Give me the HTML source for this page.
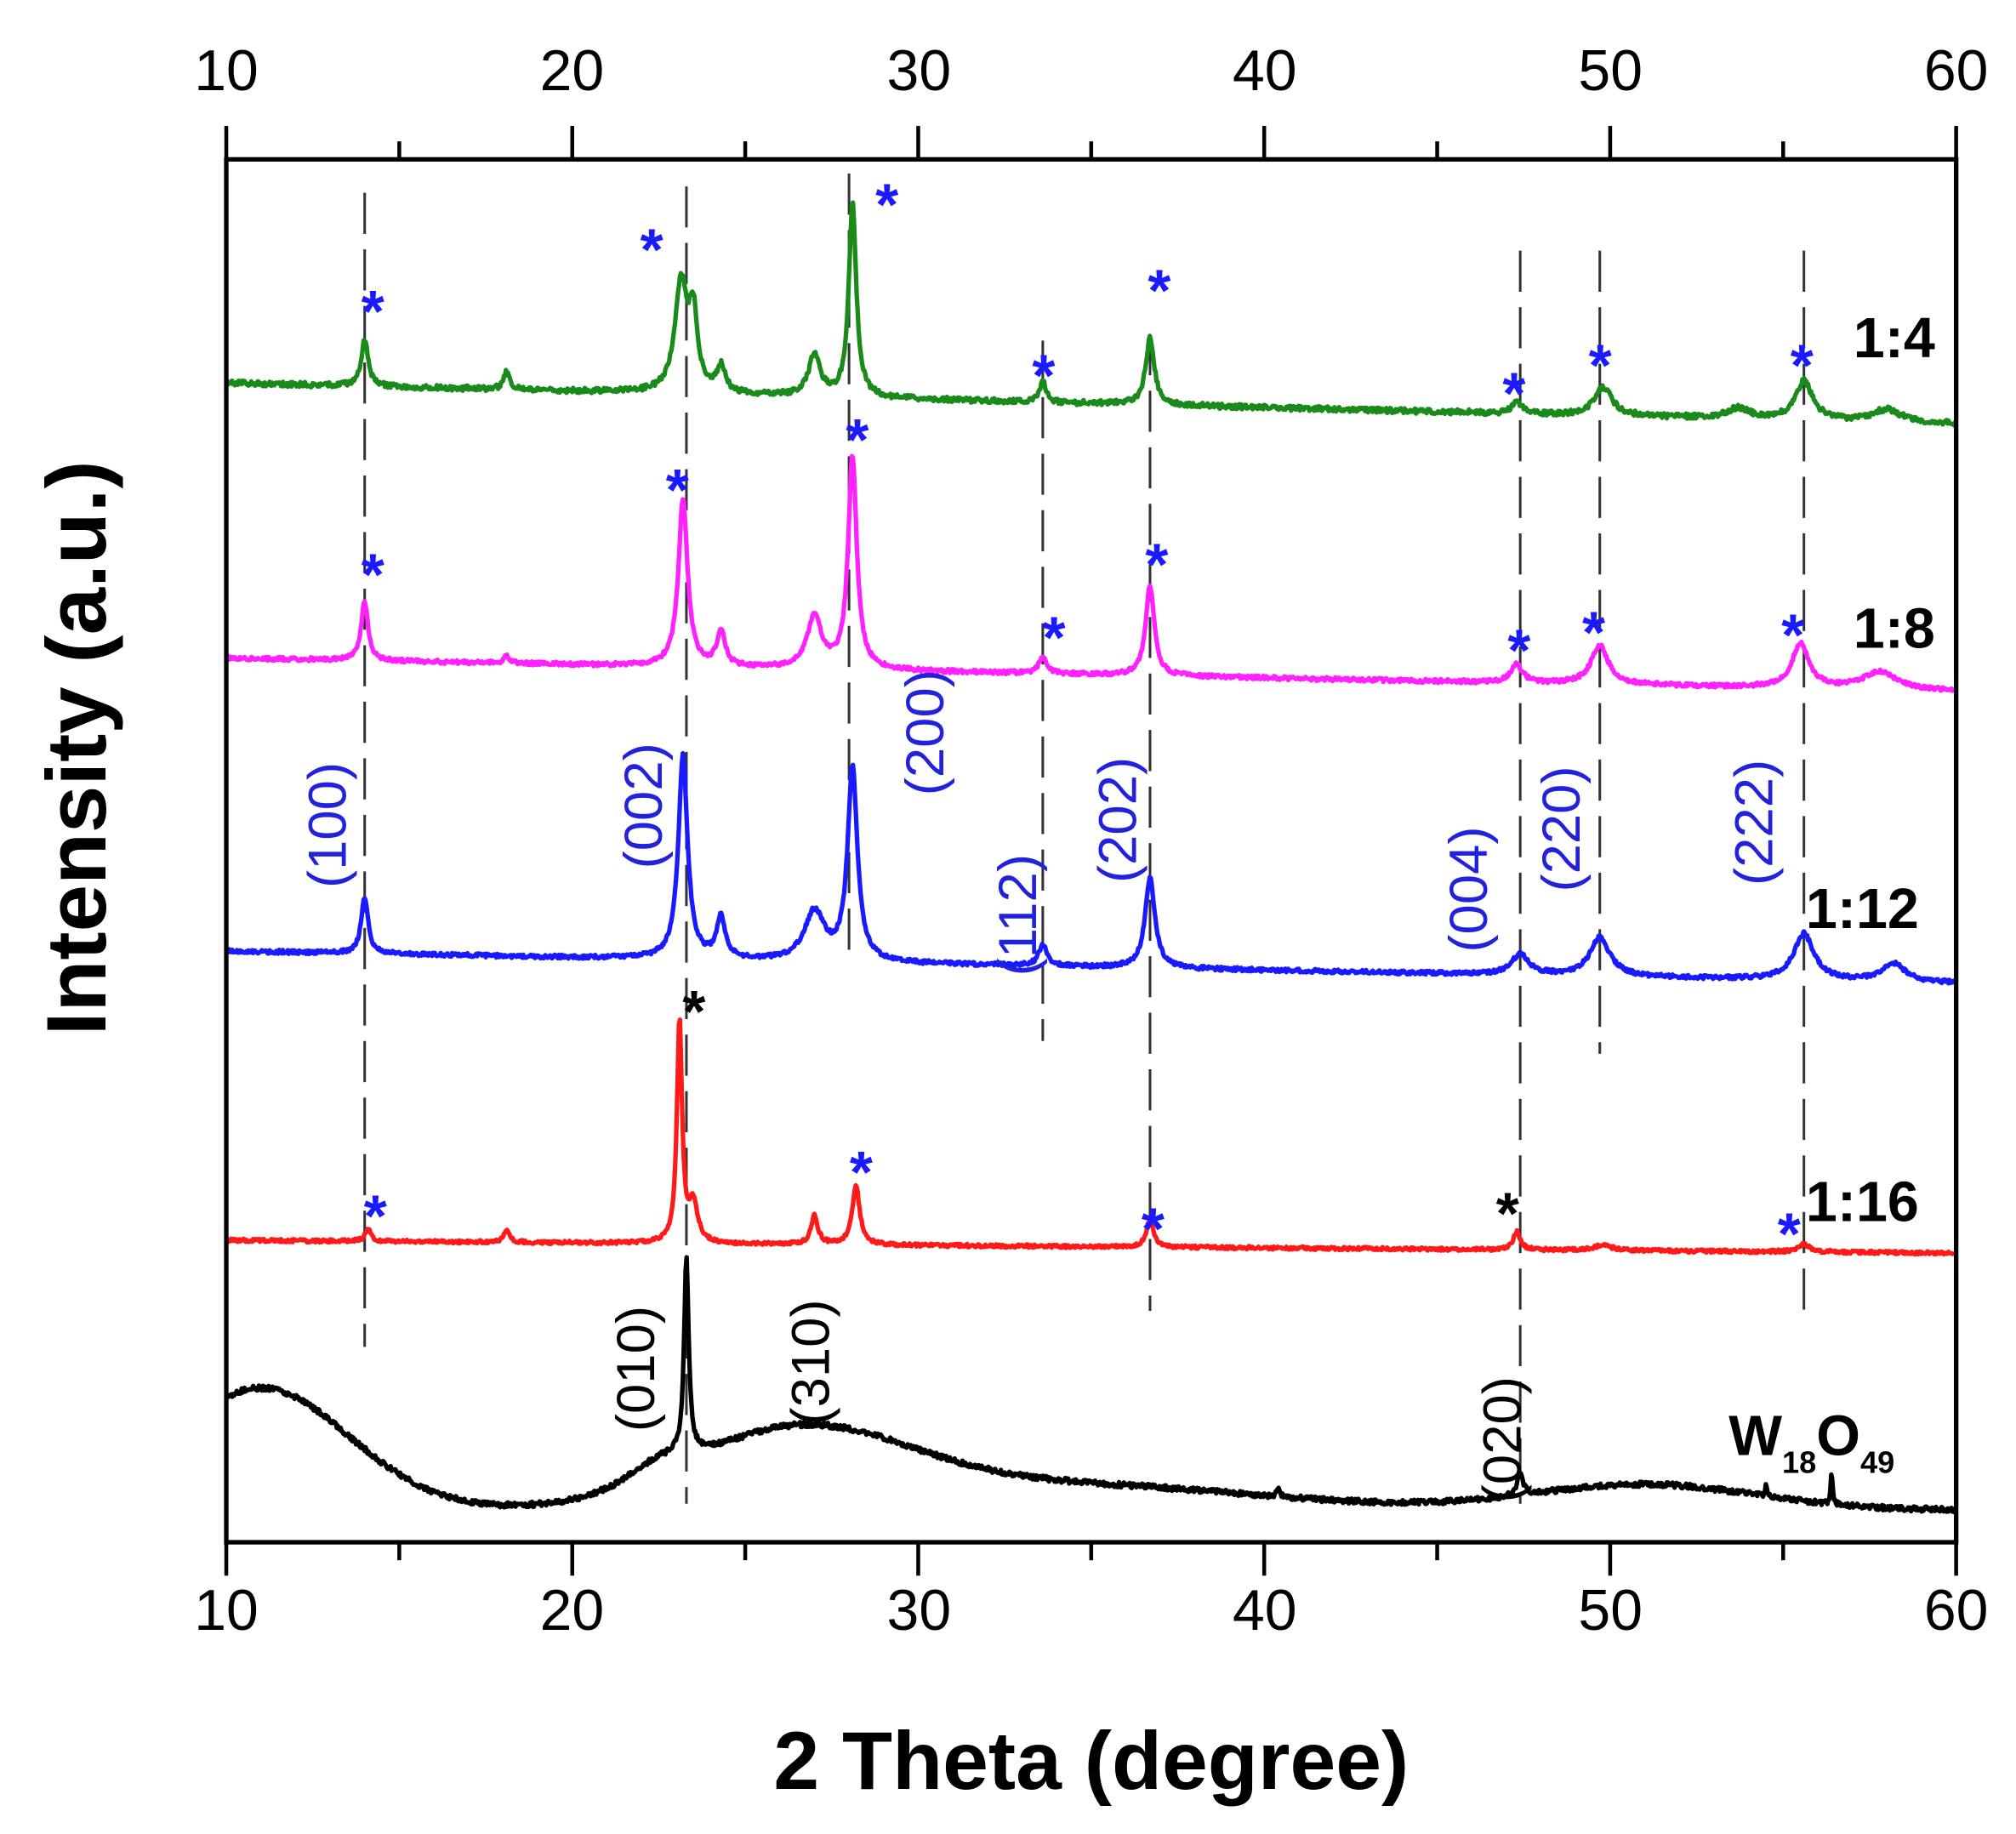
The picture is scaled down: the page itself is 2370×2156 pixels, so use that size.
<!DOCTYPE html>
<html><head><meta charset="utf-8">
<style>html,body{margin:0;padding:0;background:#fff}svg{display:block}</style></head>
<body>
<svg id="s" width="2370" height="2156" viewBox="0 0 1568.5 1427" xmlns="http://www.w3.org/2000/svg" font-family="Liberation Sans, Arial, sans-serif">
<rect width="1568.5" height="1427" fill="#fff"/>
<g id="dash" stroke="#333" stroke-width="2" stroke-dasharray="32,12" fill="none"></g>
<g id="curves" fill="none" stroke-width="3.5" stroke-linejoin="round"></g>
<g fill="none" stroke="#000" stroke-width="3.5">
<rect x="176" y="124" width="1346" height="1076"/>
</g>
<g id="ticks" stroke="#000" stroke-width="3"></g>
<g font-size="45" text-anchor="middle" fill="#000">
<text x="176" y="70">10</text><text x="445" y="70">20</text><text x="715" y="70">30</text><text x="984" y="70">40</text><text x="1253" y="70">50</text><text x="1522" y="70">60</text>
<text x="176" y="1268">10</text><text x="445" y="1268">20</text><text x="715" y="1268">30</text><text x="984" y="1268">40</text><text x="1253" y="1268">50</text><text x="1522" y="1268">60</text>
</g>
<text x="849" y="1392" font-size="64" font-weight="bold" text-anchor="middle">2 Theta (degree)</text>
<text transform="translate(82,582) rotate(-90)" font-size="66" font-weight="bold" text-anchor="middle">Intensity (a.u.)</text>
<g font-size="44" font-weight="bold" fill="#000">
<text x="1442" y="278">1:4</text>
<text x="1442" y="504">1:8</text>
<text x="1405" y="722">1:12</text>
<text x="1405" y="950">1:16</text>
<text x="1345" y="1132">W<tspan font-size="24" dy="14">18</tspan><tspan dy="-14">O</tspan><tspan font-size="24" dy="14">49</tspan></text>
</g>
<g font-size="42" fill="#2222dd" text-anchor="middle">
<text transform="translate(269,642) rotate(-90)">(100)</text>
<text transform="translate(515,627) rotate(-90)">(002)</text>
<text transform="translate(734,570) rotate(-90)">(200)</text>
<text transform="translate(806,712) rotate(-90)">(112)</text>
<text transform="translate(884,638) rotate(-90)">(202)</text>
<text transform="translate(1157,692) rotate(-90)">(004)</text>
<text transform="translate(1229,645) rotate(-90)">(220)</text>
<text transform="translate(1379,640) rotate(-90)">(222)</text>
</g>
<g font-size="42" fill="#000" text-anchor="middle">
<text transform="translate(509,1065) rotate(-90)">(010)</text>
<text transform="translate(645,1060) rotate(-90)">(310)</text>
<text transform="translate(1183,1120) rotate(-90)">(020)</text>
</g>
<g id="stars" font-size="46" font-weight="bold" text-anchor="middle"></g>
</svg>
<script>
var X=function(t){return 176+(t-10)*26.92;};
var NS="http://www.w3.org/2000/svg";
function el(p,n,a,txt){var e=document.createElementNS(NS,n);for(var k in a)e.setAttribute(k,a[k]);if(txt)e.textContent=txt;document.getElementById(p).appendChild(e);}
for(var t=10;t<=60;t+=5){var maj=t%10==0;var L=maj?26:14;var x=X(t);
el('ticks','line',{x1:x,y1:124,x2:x,y2:124-L});el('ticks','line',{x1:x,y1:1200,x2:x,y2:1200+L});}
[[14,150,1048],[23.3,145,1170],[28.0,135,740],[33.6,265,810],[36.7,260,1020],[47.4,195,1170],[49.7,195,820],[55.6,195,1020]].forEach(function(d){el('dash','line',{x1:X(d[0]),y1:d[1],x2:X(d[0]),y2:d[2]});});
var seed=1;function rnd(){seed=(seed*16807)%2147483647;return seed/2147483647-0.5;}
function curve(color,base0,base1,peaks,extra,noise){
 var d='';for(var i=0;i<=1800;i++){var t=10+50*i/1800;var y=base0+(base1-base0)*(t-10)/50;
 if(extra)y+=extra(t);
 peaks.forEach(function(p){var u=(t-p[0])/p[2];y-=p[1]/(1+u*u);});
 y+=rnd()*noise;
 d+=(i?'L':'M')+X(t).toFixed(1)+' '+y.toFixed(1);}
 el('curves','path',{d:d,stroke:color});}
curve('#1a8a1a',298,330,[[14,36,0.12],[18.1,14,0.1],[23.15,85,0.22],[23.5,55,0.14],[24.3,20,0.15],[27,32,0.2],[28.1,150,0.13],[33.6,18,0.1],[36.7,52,0.15],[47.3,10,0.15],[49.8,22,0.3],[53.7,8,0.4],[55.6,30,0.3],[58,10,0.5]],null,4);
curve('#ff22ff',512,538,[[14,46,0.12],[18.1,6,0.1],[23.2,130,0.16],[24.3,26,0.15],[27,40,0.25],[28.1,165,0.15],[33.6,12,0.15],[36.7,70,0.15],[47.3,14,0.2],[49.7,30,0.3],[55.5,34,0.3],[57.8,14,0.6]],null,3);
curve('#1a1aff',740,765,[[14,44,0.12],[23.2,158,0.16],[24.3,32,0.15],[27,38,0.35],[28.1,150,0.17],[33.6,16,0.15],[36.7,70,0.17],[47.4,16,0.3],[49.7,30,0.35],[55.6,36,0.35],[58.2,14,0.4]],null,3);
curve('#ff1a1a',965,975,[[14.1,10,0.1],[18.1,10,0.1],[23.1,172,0.09],[23.5,30,0.15],[27,22,0.12],[28.2,46,0.13],[36.7,22,0.12],[47.3,14,0.12],[49.8,4,0.3],[55.6,6,0.2]],null,2.5);
curve('#000',1175,1175,[[23.3,150,0.08],[47.4,18,0.1],[56.4,28,0.03],[54.5,10,0.03],[40.4,6,0.05]],function(t){
 return -95*Math.exp(-Math.pow((t-11)/3.6,2))-58*Math.exp(-Math.pow((t-26.5)/4.5,2))-20*Math.exp(-Math.pow((t-34)/8,2))-20*Math.exp(-Math.pow((t-51)/4.5,2))-12*Math.exp(-Math.pow((t-22.5)/1.2,2));},4);
var B='#1a1aff';
[[290,245,B],[507,197,B],[690,162,B],[902,229,B],[812,295,B],[1178,309,B],[1245,287,B],[1402,287,B],
[290,450,B],[527,384,B],[667,345,B],[900,442,B],[820,499,B],[1182,509,B],[1240,495,B],[1395,497,B],
[292,949,B],[670,915,B],[897,959,B],[1392,963,B],[540,790,'#000'],[1173,947,'#000']].forEach(function(s){el('stars','text',{x:s[0],y:s[1]+13,fill:s[2]},'*');});
</script>
</body></html>
